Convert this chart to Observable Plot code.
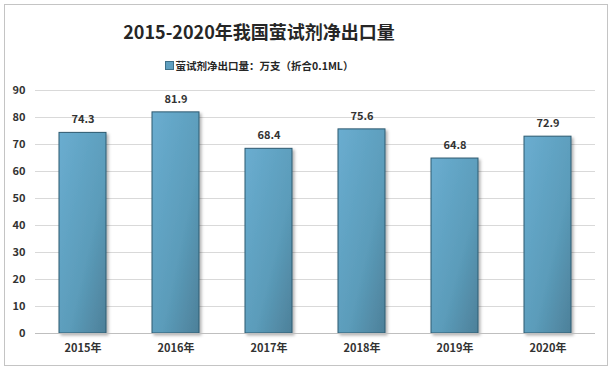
<!DOCTYPE html>
<html><head><meta charset="utf-8">
<script src="https://cdn.jsdelivr.net/npm/d3@7"></script>
<script src="https://cdn.jsdelivr.net/npm/@observablehq/plot@0.6"></script>
<style>
body{margin:0;background:#fff;font-family:"Noto Sans CJK SC","Noto Sans",sans-serif;}
#wrap{position:relative;width:616px;height:375px;}
#frame{position:absolute;left:4px;top:4px;width:604px;height:362px;border:1px solid #c4c4c4;box-sizing:border-box;}
#title{position:absolute;left:0;width:518px;top:18px;text-align:center;font-size:18px;font-weight:bold;color:#262626;}
#legend{position:absolute;left:0;width:518px;top:58px;text-align:center;font-size:10.5px;font-weight:bold;color:#262626;}
#legend span.sw{display:inline-block;width:7px;height:7px;background:#5f9fbf;border:1px solid #3d6f88;margin-right:2px;vertical-align:0px;}
#chart{position:absolute;left:0;top:80px;}
</style></head>
<body><div id="wrap"><div id="frame"></div>
<div id="title">2015-2020年我国萤试剂净出口量</div>
<div id="legend"><span class="sw"></span>萤试剂净出口量：万支（折合0.1ML）</div>
<div id="chart"></div></div>
<script>
const years = ["2015年","2016年","2017年","2018年","2019年","2020年"];
const values = [74.3, 81.9, 68.4, 75.6, 64.8, 72.9];
const yTicks = [0,10,20,30,40,50,60,70,80,90];
const data = years.map((y,i)=>({year:y, value:values[i]}));

const defs = () => {
  const d = d3.create("svg:defs");
  const g = d.append("linearGradient").attr("id","barGrad").attr("x1","0").attr("y1","0").attr("x2","1").attr("y2","1");
  g.append("stop").attr("offset","0%").attr("stop-color","#6aadd0");
  g.append("stop").attr("offset","60%").attr("stop-color","#5b9cba");
  g.append("stop").attr("offset","100%").attr("stop-color","#4d8099");
  const f = d.append("filter").attr("id","shadow").attr("x","-20%").attr("y","-20%").attr("width","150%").attr("height","150%");
  f.append("feDropShadow").attr("dx","2").attr("dy","2").attr("stdDeviation","1.5").attr("flood-color","#000").attr("flood-opacity","0.3");
  return d.node();
};

const chart = Plot.plot({
  width: 616, height: 286,
  marginLeft: 35, marginRight: 21, marginTop: 10, marginBottom: 33,
  style: {fontFamily: "'Noto Sans CJK SC', 'Noto Sans', sans-serif", fontSize: "11px", color: "#333"},
  x: {domain: years, paddingInner: 0.5, paddingOuter: 0.25, label: null, tickSize: 0, tickPadding: 11},
  y: {domain: [0, 90], ticks: yTicks, label: null, tickSize: 0, tickPadding: 10},
  marks: [
    defs,
    Plot.gridY(yTicks, {stroke: "#d9d9d9", strokeOpacity: 1}),
    Plot.barY(data, {x: "year", y: "value", fill: "url(#barGrad)", stroke: "#2e5a70", strokeWidth: 1}),
    Plot.ruleY([0], {stroke: "#bfbfbf"}),
    Plot.text(data, {x: "year", y: "value", text: d => d.value.toFixed(1), dy: -13, fontSize: 11, fontWeight: "bold", fill: "#333"})
  ]
});
chart.querySelectorAll("[aria-label='bar'] rect").forEach(r=>r.setAttribute("filter","url(#shadow)"));
chart.querySelectorAll("[aria-label^='x-axis tick label'], [aria-label^='y-axis tick label']").forEach(t=>{t.setAttribute("font-weight","bold");t.setAttribute("fill","#333");});
document.getElementById("chart").appendChild(chart);
</script></body></html>
